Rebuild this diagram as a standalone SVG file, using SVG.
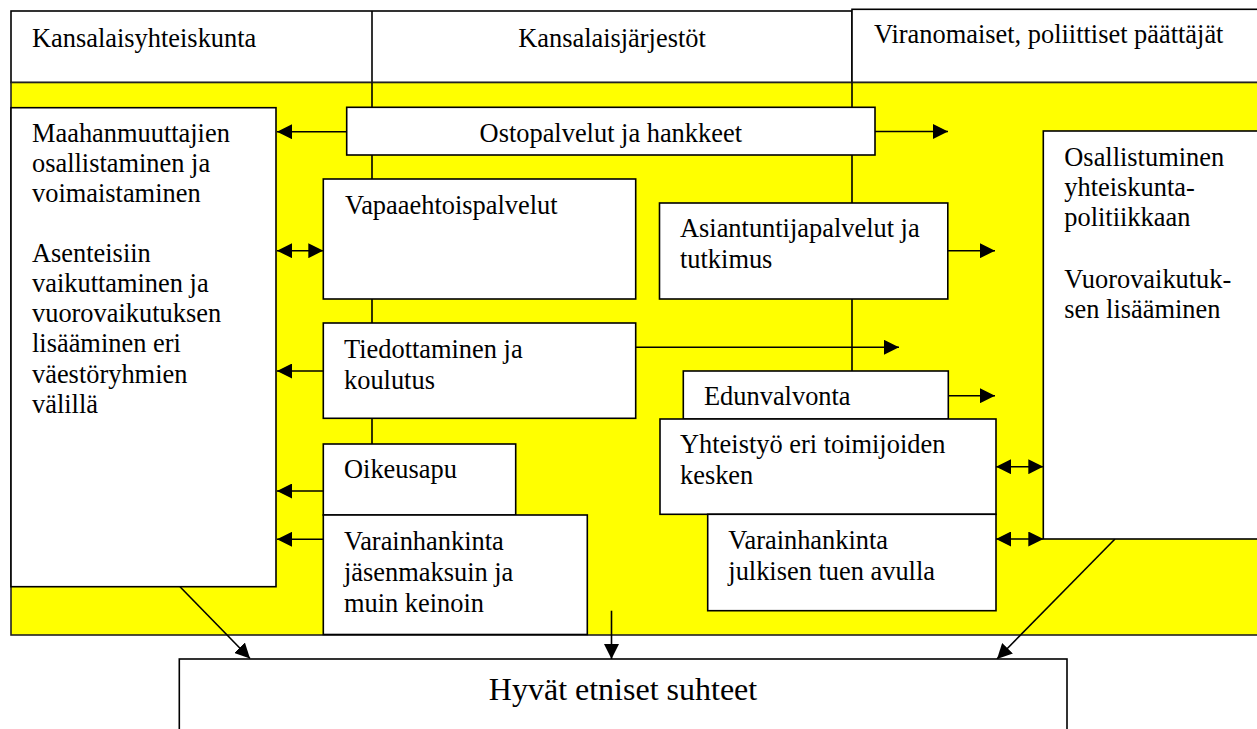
<svg xmlns="http://www.w3.org/2000/svg" width="1257" height="729" viewBox="0 0 1257 729">
<defs>
<style>
.t{font-family:"Liberation Serif","Times New Roman",serif;font-size:26.4px;fill:#000}
.big{font-size:32px}
.box{fill:#fff;stroke:#000;stroke-width:1.6}
.ln{stroke:#000;stroke-width:1.6;fill:none}
.ar{stroke:#000;stroke-width:1.6;fill:none;marker-end:url(#ah)}
.dar{stroke:#000;stroke-width:1.6;fill:none;marker-end:url(#ah);marker-start:url(#ah)}
</style>
<marker id="ah" viewBox="0 0 15 15" refX="15" refY="7.5" markerWidth="15" markerHeight="15" markerUnits="userSpaceOnUse" orient="auto-start-reverse">
<path d="M0,0 L15,7.5 L0,15 z" fill="#000"/>
</marker>
</defs>
<rect width="1257" height="729" fill="#fff"/>

<g id="header">
<rect x="11" y="11" width="841" height="71.5" class="box"/>
<rect x="852" y="9.3" width="420" height="73.2" class="box"/>
<line x1="372" y1="11" x2="372" y2="82.5" class="ln"/>
<text x="32" y="46.7" class="t">Kansalaisyhteiskunta</text>
<text x="612" y="46.7" class="t" text-anchor="middle">Kansalaisjärjestöt</text>
<text x="874" y="43.3" class="t">Viranomaiset, poliittiset päättäjät</text>
</g>

<g id="yellow-area">
<rect x="11" y="82.5" width="1260" height="552.5" fill="#ffff00" stroke="#222" stroke-width="1.6"/>
<line x1="372" y1="82.5" x2="372" y2="444" class="ln"/>
<line x1="852" y1="82.5" x2="852" y2="371" class="ln"/>
</g>

<g id="connectors">
<line x1="346.7" y1="131.7" x2="277" y2="131.7" class="ar"/>
<line x1="875" y1="131.5" x2="948" y2="131.5" class="ar"/>
<line x1="277" y1="250.7" x2="323.3" y2="250.7" class="dar"/>
<line x1="948" y1="250.7" x2="995" y2="250.7" class="ar"/>
<line x1="323.3" y1="371" x2="277" y2="371" class="ar"/>
<line x1="635.7" y1="347.3" x2="899" y2="347.3" class="ar"/>
<line x1="948.3" y1="395.7" x2="995" y2="395.7" class="ar"/>
<line x1="323.3" y1="491" x2="277" y2="491" class="ar"/>
<line x1="323.3" y1="539.3" x2="277" y2="539.3" class="ar"/>
<line x1="996" y1="466.7" x2="1043.3" y2="466.7" class="dar"/>
<line x1="996" y1="539" x2="1043.3" y2="539" class="dar"/>
<line x1="180" y1="586.7" x2="250" y2="658.5" class="ar"/>
<line x1="611.5" y1="610.7" x2="611.5" y2="659" class="ar"/>
<line x1="1115" y1="539" x2="997" y2="659" class="ar"/>
</g>

<g id="left-box">
<rect x="11" y="107.7" width="265" height="479" class="box"/>
<text class="t"><tspan x="32" y="141.7">Maahanmuuttajien</tspan><tspan x="32" y="171.8">osallistaminen ja</tspan><tspan x="32" y="201.9">voimaistaminen</tspan><tspan x="32" y="262.1">Asenteisiin</tspan><tspan x="32" y="292.2">vaikuttaminen ja</tspan><tspan x="32" y="322.3">vuorovaikutuksen</tspan><tspan x="32" y="352.4">lisääminen eri</tspan><tspan x="32" y="382.5">väestöryhmien</tspan><tspan x="32" y="412.6">välillä</tspan></text>
</g>

<g id="ostopalvelut">
<rect x="346.7" y="107.3" width="528.3" height="47.7" class="box"/>
<text x="610.8" y="142" class="t" text-anchor="middle">Ostopalvelut ja hankkeet</text>
</g>

<g id="vapaaehtoispalvelut">
<rect x="323.3" y="179" width="312.4" height="120" class="box"/>
<text x="345" y="214" class="t">Vapaaehtoispalvelut</text>
</g>

<g id="asiantuntijapalvelut">
<rect x="659.5" y="203" width="288.3" height="96" class="box"/>
<text class="t"><tspan x="680" y="237.3">Asiantuntijapalvelut ja</tspan><tspan x="680" y="268.3">tutkimus</tspan></text>
</g>

<g id="tiedottaminen">
<rect x="323.3" y="323" width="312.4" height="95.3" class="box"/>
<text class="t"><tspan x="344" y="358">Tiedottaminen ja</tspan><tspan x="344" y="389">koulutus</tspan></text>
</g>

<g id="edunvalvonta">
<rect x="683.3" y="371" width="265" height="48" class="box"/>
<text x="704" y="405" class="t">Edunvalvonta</text>
</g>

<g id="yhteistyo">
<rect x="660" y="419" width="336" height="95.3" class="box"/>
<text class="t"><tspan x="680" y="453.3">Yhteistyö eri toimijoiden</tspan><tspan x="680" y="484.3">kesken</tspan></text>
</g>

<g id="oikeusapu">
<rect x="323.3" y="444" width="192.4" height="71" class="box"/>
<text x="344" y="478" class="t">Oikeusapu</text>
</g>

<g id="varainhankinta-jasenmaksuin">
<rect x="323.3" y="515" width="264" height="119.5" class="box"/>
<text class="t"><tspan x="344" y="550">Varainhankinta</tspan><tspan x="344" y="580.5">jäsenmaksuin ja</tspan><tspan x="344" y="611.5">muin keinoin</tspan></text>
</g>

<g id="varainhankinta-julkinen">
<rect x="707.7" y="514.3" width="288.3" height="96.4" class="box"/>
<text class="t"><tspan x="728.3" y="549.3">Varainhankinta</tspan><tspan x="728.3" y="580">julkisen tuen avulla</tspan></text>
</g>

<g id="osallistuminen">
<rect x="1043.3" y="131" width="230" height="408" class="box"/>
<text class="t"><tspan x="1064.3" y="165.7">Osallistuminen</tspan><tspan x="1064.3" y="195.9">yhteiskunta-</tspan><tspan x="1064.3" y="226.1">politiikkaan</tspan><tspan x="1064.3" y="287.5">Vuorovaikutuk-</tspan><tspan x="1064.3" y="317.7">sen lisääminen</tspan></text>
</g>

<g id="hyvat-etniset-suhteet">
<rect x="179.3" y="659" width="887.7" height="90" class="box"/>
<text x="623" y="700" class="t big" text-anchor="middle">Hyvät etniset suhteet</text>
</g>
</svg>
